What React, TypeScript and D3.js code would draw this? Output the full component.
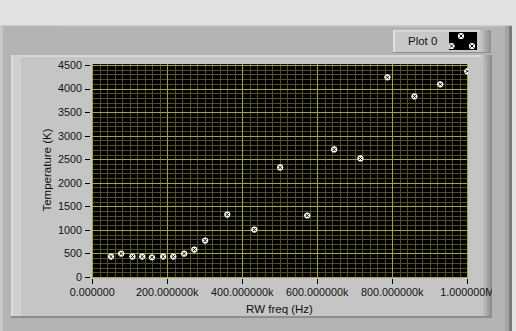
import React from "react";
import * as d3 from "d3";

const freqHz = [50000, 77000, 107000, 133000, 159000, 189000, 216000, 245000, 272000, 301000, 360000, 432000, 501000, 573000, 645000, 715000, 787000, 859000, 928000, 1000000];
const tempK = [434, 497, 433, 433, 419, 433, 433, 497, 582, 774, 1326, 1007, 2325, 1305, 2707, 2517, 4239, 3835, 4090, 4366];
const xTicks = [0, 200000, 400000, 600000, 800000, 1000000];
const xTickLabels = ["0.000000", "200.000000k", "400.000000k", "600.000000k", "800.000000k", "1.000000M"];
const yTicks = [0, 500, 1000, 1500, 2000, 2500, 3000, 3500, 4000, 4500];
const legendLabel = "Plot 0";
const xTitle = "RW freq (Hz)";
const yTitle = "Temperature (K)";

const W = 516, H = 331;
const PL = 92, PR = 468, PT = 64, PB = 278;
const FONT = "'Liberation Sans', Arial, sans-serif";

function Marker({ x, y }: { x: number; y: number }) {
  const d = 1.6;
  return (
    <g>
      <circle cx={x} cy={y} r={3.1} fill="#ffffff" />
      <line x1={x - d} y1={y - d} x2={x + d} y2={y + d} stroke="#000" strokeWidth={1} />
      <line x1={x - d} y1={y + d} x2={x + d} y2={y - d} stroke="#000" strokeWidth={1} />
    </g>
  );
}

export default function App() {
  const x = d3.scaleLinear().domain([0, 1000000]).range([92.3, 467.3]);
  const y = d3.scaleLinear().domain([0, 4500]).range([277, 65]);
  const minorX = d3.range(0, 1000001, 20000);
  const minorY = d3.range(0, 4501, 100);
  const px = (v: number) => Math.round(v) + 0.5;

  return (
    <svg width={W} height={H} style={{ position: "absolute", left: 0, top: 0 }} fontFamily={FONT}>
      <defs>
        <clipPath id="plotclip"><rect x={PL} y={PT} width={PR - PL} height={PB - PT} /></clipPath>
        <clipPath id="panelclip"><rect x={11} y={55} width={481} height={262} /></clipPath>
        <clipPath id="swclip"><rect x={449} y={32} width={28} height={18} /></clipPath>
        <linearGradient id="rgrad" x1="0" x2="1" y1="0" y2="0">
          <stop offset="0" stopColor="#c6c6c6" />
          <stop offset="1" stopColor="#8a8a8a" />
        </linearGradient>
        <linearGradient id="lgrad" x1="0" x2="1" y1="0" y2="0">
          <stop offset="0" stopColor="#c8c8c8" />
          <stop offset="1" stopColor="#8e8e8e" />
        </linearGradient>
      </defs>
      {/* background */}
      <rect x={0} y={0} width={W} height={H} fill="#e1e1e1" />
      {/* outer frame */}
      <rect x={0} y={25} width={512} height={306} fill="#b4b4b4" />
      <line x1={0} y1={25.5} x2={512} y2={25.5} stroke="#cbcbcb" />
      <line x1={60} y1={26.5} x2={512} y2={26.5} stroke="#c2c2c2" />
      <rect x={0} y={26} width={3} height={305} fill="#c8c8c8" />
      <rect x={505} y={26} width={5} height={305} fill="#a4a4a4" />
      <rect x={509} y={26} width={3} height={305} fill="#7a7a7a" />
      {/* inner panel */}
      <rect x={11} y={55} width={481} height={262} fill="#c5c5c5" />
      <rect x={11} y={55} width={481} height={2} fill="#d8d8d8" />
      <rect x={11} y={55} width={10} height={262} fill="#d0d0d0" />
      <rect x={11} y={55} width={2} height={262} fill="#dedede" />
      <rect x={482} y={55} width={10} height={262} fill="url(#rgrad)" />
      <rect x={11} y={316} width={481} height={2} fill="#8c8c8c" />
      {/* legend */}
      <rect x={393} y={30} width={98} height={23} fill="#c8c8c8" />
      <rect x={393} y={30} width={98} height={1.5} fill="#dcdcdc" />
      <rect x={393} y={30} width={2} height={23} fill="#e0e0e0" />
      <rect x={480} y={30} width={11} height={23} fill="url(#lgrad)" />
      <rect x={393} y={52} width={98} height={1} fill="#8e8e8e" />
      <text x={408} y={45} fontSize={11.5} fill="#111">{legendLabel}</text>
      <rect x={449} y={32} width={28} height={18} fill="#000" />
      <g clipPath="url(#swclip)">
        <Marker x={461} y={36} />
        <Marker x={451.5} y={46} />
        <Marker x={472} y={46} />
      </g>
      {/* plot area */}
      <rect x={PL} y={PT} width={PR - PL} height={PB - PT} fill="#000" />
      <g clipPath="url(#plotclip)">
        {minorX.map((v) => (
          <line key={"mx" + v} x1={px(x(v))} x2={px(x(v))} y1={PT} y2={PB} stroke="#52521a" />
        ))}
        {minorY.map((v) => (
          <line key={"my" + v} y1={px(y(v))} y2={px(y(v))} x1={PL} x2={PR} stroke="#52521a" />
        ))}
        {xTicks.map((v) => (
          <line key={"Mx" + v} x1={px(x(v))} x2={px(x(v))} y1={PT} y2={PB} stroke="#acac00" />
        ))}
        {yTicks.map((v) => (
          <line key={"My" + v} y1={px(y(v))} y2={px(y(v))} x1={PL} x2={PR} stroke="#acac00" />
        ))}
        {freqHz.map((f, i) => (
          <Marker key={"p" + i} x={x(f)} y={y(tempK[i])} />
        ))}
      </g>
      {/* y axis */}
      {yTicks.map((v) => (
        <g key={"yt" + v}>
          <line x1={85} x2={90} y1={px(y(v))} y2={px(y(v))} stroke="#000" />
          <text x={82} y={y(v)} dy="0.36em" textAnchor="end" fontSize={10.8} fill="#111">{v}</text>
        </g>
      ))}
      {/* x axis */}
      <g clipPath="url(#panelclip)">
        {xTicks.map((v, i) => (
          <g key={"xt" + v}>
            <line x1={px(x(v))} x2={px(x(v))} y1={279} y2={284} stroke="#000" />
            <text x={x(v)} y={296} textAnchor="middle" fontSize={10.8} fill="#111">{xTickLabels[i]}</text>
          </g>
        ))}
      </g>
      <text x={279.5} y={313} textAnchor="middle" fontSize={11.5} fill="#111">{xTitle}</text>
      <text transform="translate(51,170) rotate(-90)" textAnchor="middle" fontSize={11.5} fill="#111">{yTitle}</text>
    </svg>
  );
}
